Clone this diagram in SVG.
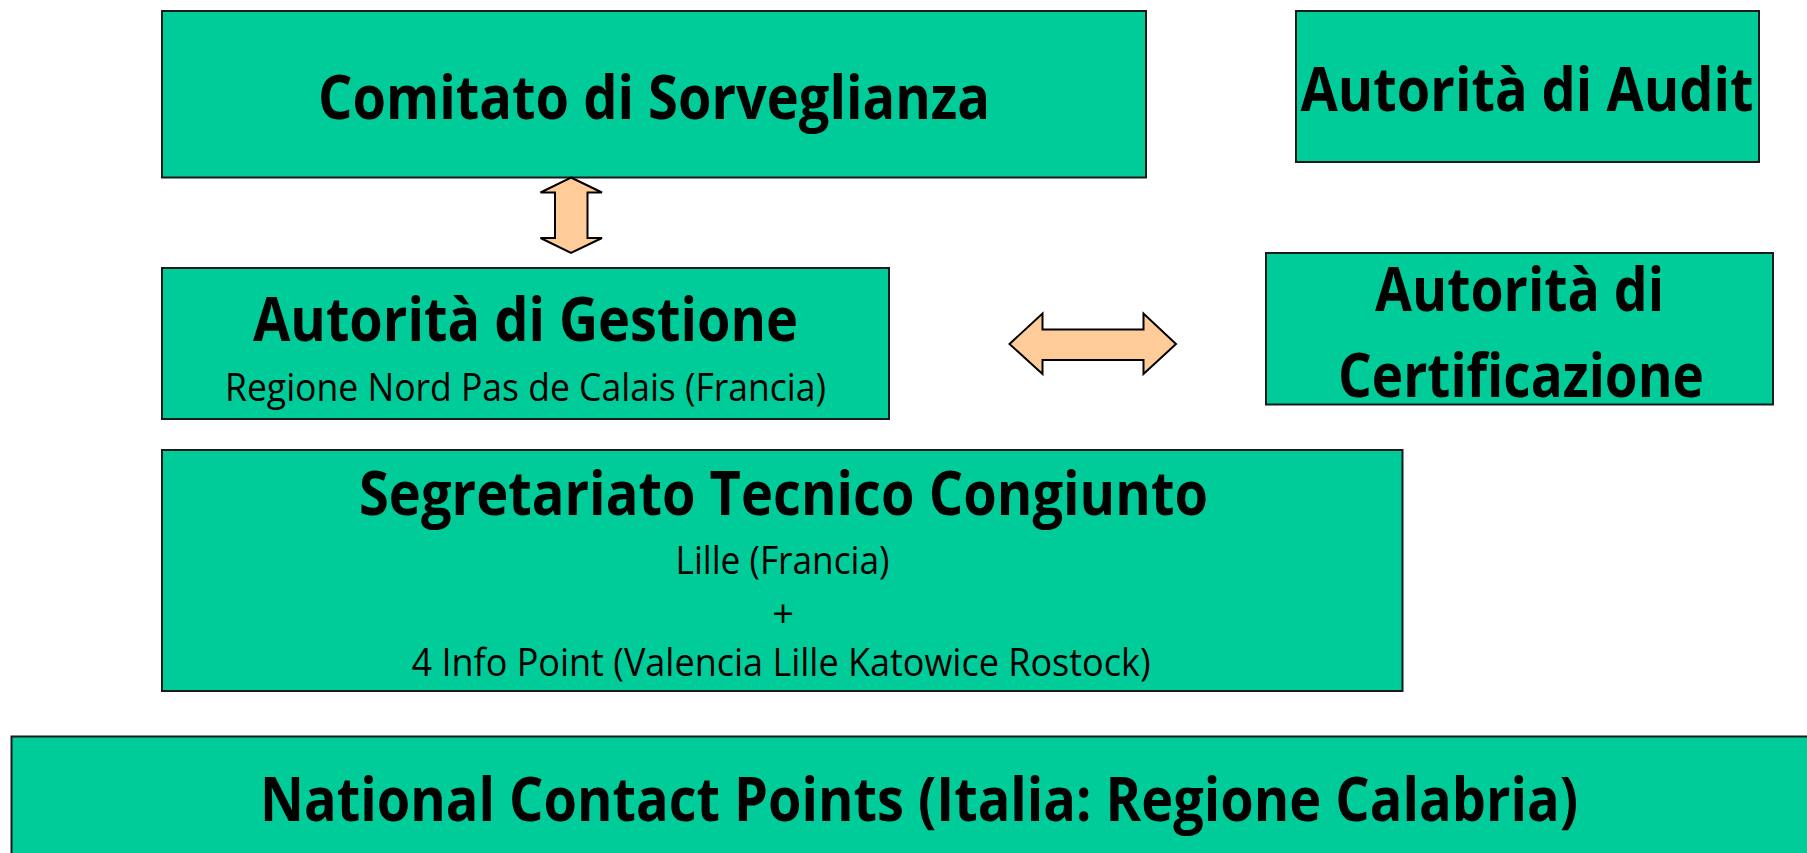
<svg xmlns="http://www.w3.org/2000/svg" width="1807" height="853" viewBox="0 0 1807 853">
<style>
.box{fill:#00CC99;stroke:#1a1a1a;stroke-width:2}
.arr{fill:#FFCC99;stroke:#000;stroke-width:2;stroke-linejoin:miter}
.t{font-family:"Open Sans","Noto Sans","Liberation Sans",sans-serif;font-weight:bold;font-size:60px;fill:#000;text-anchor:middle}
.s{font-family:"Open Sans","Noto Sans","Liberation Sans",sans-serif;font-weight:normal;font-size:38px;fill:#000;text-anchor:middle}
</style>
<rect width="1807" height="853" fill="#fff"/>
<g id="comitato">
<rect class="box" x="162" y="11" width="984" height="166.5"/>
<text class="t" x="654" y="118.5" textLength="672" lengthAdjust="spacingAndGlyphs">Comitato di Sorveglianza</text>
</g>
<g id="audit">
<rect class="box" x="1296" y="11" width="463" height="151"/>
<text class="t" x="1527" y="111" textLength="453" lengthAdjust="spacingAndGlyphs">Autorità di Audit</text>
</g>
<g id="gestione">
<rect class="box" x="162" y="268" width="727" height="151"/>
<text class="t" x="525.5" y="341" textLength="545" lengthAdjust="spacingAndGlyphs">Autorità di Gestione</text>
<text class="s" x="525.5" y="401" textLength="601" lengthAdjust="spacingAndGlyphs">Regione Nord Pas de Calais (Francia)</text>
</g>
<g id="certificazione">
<rect class="box" x="1266" y="253" width="507" height="151.5"/>
<text class="t" x="1519.5" y="311" textLength="289" lengthAdjust="spacingAndGlyphs">Autorità di</text>
<text class="t" x="1521" y="396.5" textLength="366" lengthAdjust="spacingAndGlyphs">Certificazione</text>
</g>
<g id="segretariato">
<rect class="box" x="162" y="450" width="1240.5" height="241"/>
<text class="t" x="783.5" y="515" textLength="849" lengthAdjust="spacingAndGlyphs">Segretariato Tecnico Congiunto</text>
<text class="s" x="782.5" y="574" textLength="214" lengthAdjust="spacingAndGlyphs">Lille (Francia)</text>
<text class="s" x="783" y="627">+</text>
<text class="s" x="781" y="676" textLength="739" lengthAdjust="spacingAndGlyphs">4 Info Point (Valencia Lille Katowice Rostock)</text>
</g>
<g id="national">
<rect class="box" x="11.5" y="736.5" width="1830" height="140"/>
<text class="t" x="919" y="820.5" textLength="1318" lengthAdjust="spacingAndGlyphs">National Contact Points (Italia: Regione Calabria)</text>
</g>
<g id="connectors">
<polygon class="arr" points="571,177.5 602,192.5 587.5,192.5 587.5,238 602,238 571,253 540.5,238 555,238 555,192.5 540.5,192.5"/>
<polygon class="arr" points="1009.5,344 1042.5,313.5 1042.5,329.5 1143.5,329.5 1143.5,313.5 1176,344 1143.5,374 1143.5,360 1042.5,360 1042.5,374"/>
</g>
</svg>
